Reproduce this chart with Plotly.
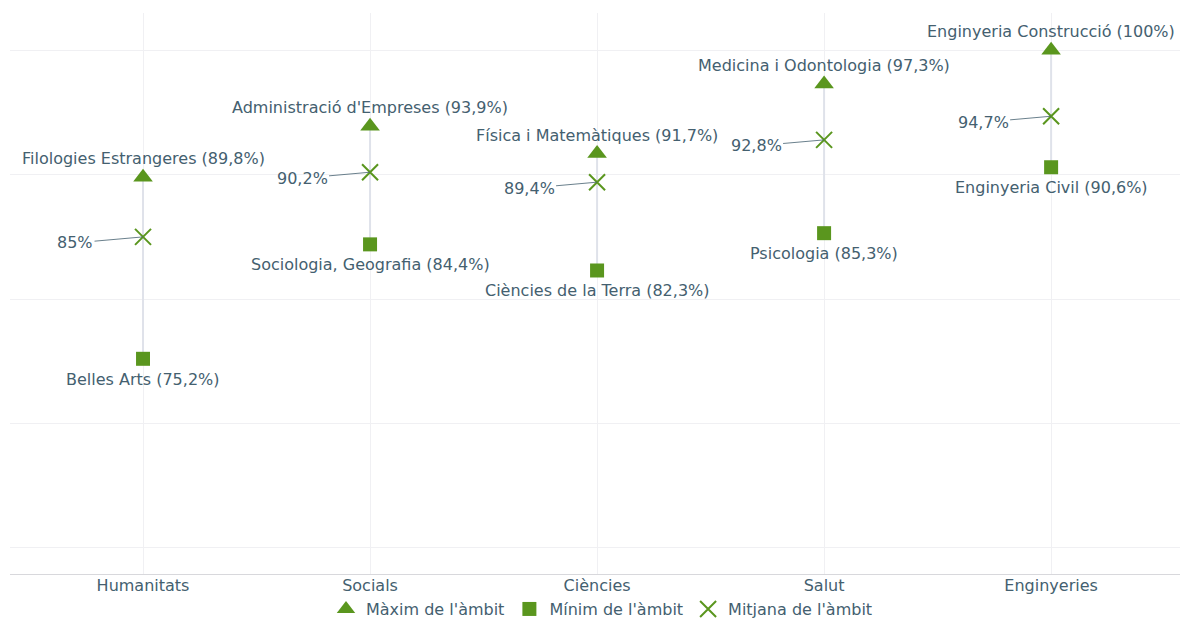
import plotly.graph_objects as go

categories = ["Humanitats", "Socials", "Ciències", "Salut", "Enginyeries"]
max_vals = [89.8, 93.9, 91.7, 97.3, 100.0]
max_names = ["Filologies Estrangeres", "Administració d'Empreses", "Física i Matemàtiques",
             "Medicina i Odontologia", "Enginyeria Construcció"]
min_vals = [75.2, 84.4, 82.3, 85.3, 90.6]
min_names = ["Belles Arts", "Sociologia, Geografia", "Ciències de la Terra",
             "Psicologia", "Enginyeria Civil"]
mean_vals = [85.0, 90.2, 89.4, 92.8, 94.7]

GREEN = "#5a961e"
TEXT = "#44606f"
FONT = "DejaVu Sans"
FS = 16


def fmt(v):
    s = ("%.1f" % v).rstrip("0").rstrip(".")
    return s.replace(".", ",") + "%"


fig = go.Figure()

# range lines
lx, ly = [], []
for c, lo, hi in zip(categories, min_vals, max_vals):
    lx += [c, c, None]
    ly += [lo, hi, None]
fig.add_trace(go.Scatter(x=lx, y=ly, mode="lines", line=dict(color="#dfe2ea", width=2),
                         showlegend=False, hoverinfo="skip"))

fig.add_trace(go.Scatter(x=categories, y=max_vals, mode="markers", name="Màxim de l'àmbit",
                         marker=dict(symbol="triangle-up", size=17, color=GREEN)))
fig.add_trace(go.Scatter(x=categories, y=min_vals, mode="markers", name="Mínim de l'àmbit",
                         marker=dict(symbol="square", size=14, color=GREEN)))
fig.add_trace(go.Scatter(x=categories, y=mean_vals, mode="markers", name="Mitjana de l'àmbit",
                         marker=dict(symbol="x-thin-open", size=16, color=GREEN,
                                     line=dict(color=GREEN, width=2))))

annotations = []
for c, v, n in zip(categories, max_vals, max_names):
    annotations.append(dict(x=c, y=v, text=f"{n} ({fmt(v)})", showarrow=False,
                            yanchor="bottom", yshift=7, font=dict(color=TEXT, size=FS, family=FONT)))
for c, v, n in zip(categories, min_vals, min_names):
    annotations.append(dict(x=c, y=v, text=f"{n} ({fmt(v)})", showarrow=False,
                            yanchor="top", yshift=-9, font=dict(color=TEXT, size=FS, family=FONT)))
for c, v in zip(categories, mean_vals):
    annotations.append(dict(x=c, y=v, text=fmt(v), showarrow=True, arrowhead=0,
                            arrowwidth=0.8, arrowcolor=TEXT, ax=-68, ay=6,
                            font=dict(color=TEXT, size=FS, family=FONT)))

fig.update_layout(
    width=1188, height=619,
    margin=dict(l=2, r=8, t=5, b=53, autoexpand=False),
    plot_bgcolor="white", paper_bgcolor="white",
    font=dict(family=FONT, color=TEXT, size=FS),
    annotations=annotations,
    showlegend=True,
    legend=dict(orientation="h", x=0.5, xanchor="center", xref="container",
                y=0.029, yanchor="middle", yref="container",
                font=dict(size=FS, color=TEXT), itemwidth=30, tracegroupgap=0),
    xaxis=dict(type="category", range=[-0.586, 4.603], showgrid=True, gridcolor="#f0f0f3",
               showline=True, linecolor="#d8d8dc", linewidth=1, ticks="",
               ticklabelstandoff=-3,
               tickfont=dict(size=FS, color=TEXT), fixedrange=True),
    yaxis=dict(range=[57.9, 103], tickvals=[60, 70, 80, 90, 100], showticklabels=False,
               showgrid=True, gridcolor="#f0f0f3", zeroline=False, showline=False, fixedrange=True),
)

fig.write_html("out.html")
